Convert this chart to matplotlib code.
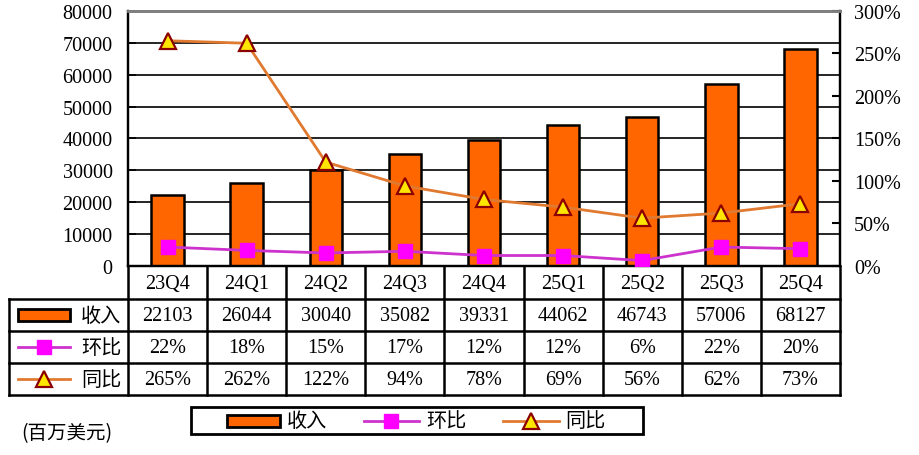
import matplotlib
matplotlib.use("Agg")
import matplotlib.pyplot as plt
from matplotlib.patches import Rectangle
from matplotlib.lines import Line2D
from matplotlib.transforms import Affine2D, blended_transform_factory
import numpy as np

# ---- data ----
categories = ["23Q4", "24Q1", "24Q2", "24Q3", "24Q4", "25Q1", "25Q2", "25Q3", "25Q4"]
revenue = [22103, 26044, 30040, 35082, 39331, 44062, 46743, 57006, 68127]
qoq = [22, 18, 15, 17, 12, 12, 6, 22, 20]          # 环比 %
yoy = [265, 262, 122, 94, 78, 69, 56, 62, 73]      # 同比 %
left_ticks = [0, 10000, 20000, 30000, 40000, 50000, 60000, 70000, 80000]
right_ticks = [0, 50, 100, 150, 200, 250, 300]
series_names = ["收入", "环比", "同比"]
unit_label = "(百万美元)"

W, H = 920, 456
BAR_C = "#FF6600"
QOQ_LINE = "#CC33CC"
QOQ_MK = "#FF00FF"
YOY_LINE = "#E07A30"
YOY_MK = "#FFE600"
YOY_EDGE = "#8B0000"
FAM = ["Liberation Serif", "Noto Sans CJK SC"]
CJK = ["Noto Sans CJK SC", "DejaVu Sans"]
FS = 14.5

fig = plt.figure(figsize=(W / 100, H / 100), dpi=100)
px = Affine2D().scale(1 / W, -1 / H).translate(0, 1) + fig.transFigure  # pixel coords, y down

L, R, T, B = 128, 840, 12, 266.7
ax = fig.add_axes([L / W, (H - B) / H, (R - L) / W, (B - T) / H])
ax2 = ax.twinx()
ax.set_zorder(1)
ax2.set_zorder(2)
ax.patch.set_visible(False)
ax2.patch.set_visible(False)

x = np.arange(len(categories))
ax.set_xlim(-0.5, len(categories) - 0.5)
ax.set_ylim(0, 80000)
ax2.set_ylim(0, 300)

# gridlines
for v in left_ticks[1:-1]:
    ax.axhline(v, color="black", lw=1.2, zorder=0)

ax.bar(x, revenue, width=0.41, color=BAR_C, edgecolor="black", linewidth=1.8, zorder=2)

ax2.plot(x, qoq, color=QOQ_LINE, lw=2.0, marker="s", ms=10.5, mfc=QOQ_MK, mec=QOQ_MK, zorder=4)
ax2.plot(x, yoy, color=YOY_LINE, lw=2.0, marker="^", ms=11, mfc=YOY_MK, mec=YOY_EDGE,
         mew=1.6, zorder=4)

# axes styling
ax.set_yticks(left_ticks)
ax.set_yticklabels([str(v) for v in left_ticks], family=FAM, fontsize=FS)
ax2.set_yticks(right_ticks)
ax2.set_yticklabels([f"{v}%" for v in right_ticks], family=FAM, fontsize=FS)
ax.tick_params(axis="y", direction="in", length=5.5, width=1.2, pad=11)
ax2.tick_params(axis="y", direction="in", length=5.5, width=1.5, pad=10)
ax.set_xticks([])
ax2.set_xticks([])
for a in (ax, ax2):
    for s in a.spines.values():
        s.set_linewidth(1.6)
        s.set_color("black")
    a.spines["top"].set_color("#808080")
    a.spines["top"].set_linewidth(2.0)

# ---- data table ----
bt = blended_transform_factory(ax.transData, px)
row_y = [B, 300, 332, 364, 396]
lw_t = 1.8
for k in range(len(categories) + 1):
    fig.add_artist(Line2D([k - 0.5, k - 0.5], [B, row_y[-1]], transform=bt, color="black", lw=lw_t))
for yy in row_y[1:]:
    fig.add_artist(Line2D([9, R], [yy, yy], transform=px, color="black", lw=lw_t))
fig.add_artist(Line2D([9, 9], [row_y[1], row_y[-1]], transform=px, color="black", lw=lw_t))

rows_text = [
    [str(v) for v in revenue],
    [f"{v}%" for v in qoq],
    [f"{v}%" for v in yoy],
]
for i, c in enumerate(categories):
    fig.text(i, (row_y[0] + row_y[1]) / 2 + 1, c, transform=bt, ha="center", va="center",
             family=FAM, fontsize=FS)
    for r in range(3):
        fig.text(i, (row_y[r + 1] + row_y[r + 2]) / 2 + 1, rows_text[r][i], transform=bt,
                 ha="center", va="center", family=FAM, fontsize=FS)


def key(xl, xr, yc, kind):
    if kind == 0:
        fig.add_artist(Rectangle((xl, yc - 6), xr - xl, 12, transform=px, facecolor=BAR_C,
                                 edgecolor="black", lw=2.0))
    elif kind == 1:
        fig.add_artist(Line2D([xl, xr], [yc, yc], transform=px, color=QOQ_LINE, lw=2.0))
        fig.add_artist(Line2D([(xl + xr) / 2], [yc], transform=px, ls="none", marker="s",
                              ms=10.5, mfc=QOQ_MK, mec=QOQ_MK))
    else:
        fig.add_artist(Line2D([xl, xr], [yc, yc], transform=px, color=YOY_LINE, lw=2.0))
        fig.add_artist(Line2D([(xl + xr) / 2], [yc], transform=px, ls="none", marker="^",
                              ms=11, mfc=YOY_MK, mec=YOY_EDGE, mew=1.6))


for r in range(3):
    yc = (row_y[r + 1] + row_y[r + 2]) / 2
    key(18, 70, yc, r)
    fig.text(81, yc + 1, series_names[r], transform=px, ha="left", va="center",
             family=CJK, fontsize=FS)

# ---- legend box ----
fig.add_artist(Rectangle((191, 408), 452, 27, transform=px, facecolor="white",
                         edgecolor="black", lw=2.0))
leg_y = 422
key(227, 280, leg_y, 0)
fig.text(287, leg_y, series_names[0], transform=px, ha="left", va="center", family=CJK, fontsize=FS)
key(364, 419, leg_y, 1)
fig.text(426, leg_y, series_names[1], transform=px, ha="left", va="center", family=CJK, fontsize=FS)
key(503, 559, leg_y, 2)
fig.text(565, leg_y, series_names[2], transform=px, ha="left", va="center", family=CJK, fontsize=FS)

fig.text(21, 434, unit_label, transform=px, ha="left", va="center", family=CJK, fontsize=14)

fig.savefig("out.png", dpi=100)
